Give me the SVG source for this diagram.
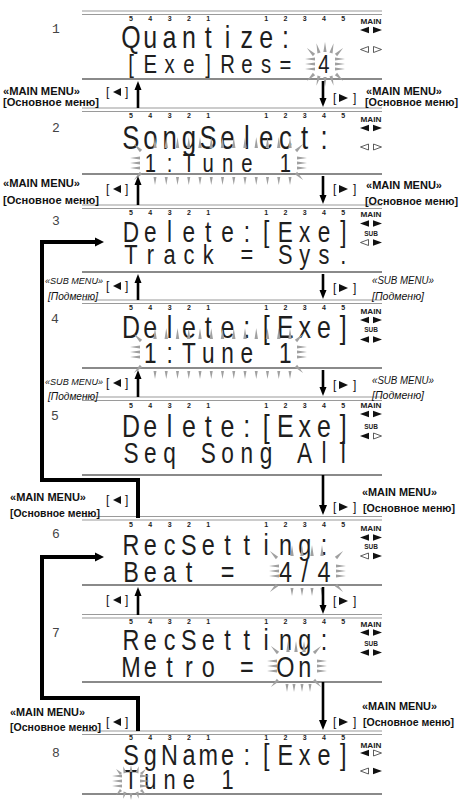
<svg xmlns="http://www.w3.org/2000/svg" width="462" height="803" viewBox="0 0 462 803">
<style>
.lcd{font-family:"Liberation Sans",Arial,sans-serif;fill:#1e1e1e;text-anchor:middle}
.num{font-family:"Liberation Mono","Courier New",monospace;font-size:13px;fill:#444}
.dig{font-family:"Liberation Sans",Arial,sans-serif;font-weight:bold;font-size:7px;fill:#222;text-anchor:middle}
.ind{font-family:"Liberation Sans",Arial,sans-serif;font-weight:bold;font-size:6.5px;fill:#222;text-anchor:middle}
.lbl{font-family:"Liberation Sans",Arial,sans-serif;font-weight:bold;font-size:11px;fill:#111}
.sub{font-family:"Liberation Sans",Arial,sans-serif;font-style:italic;font-size:10.5px;fill:#111}
.subl{font-size:9.5px}
.br{font-family:"Liberation Sans",Arial,sans-serif;font-size:12px;fill:#111}
.dl{stroke:#9a9a9a;stroke-width:1.1}
.bl{stroke:#8a8a8a;stroke-width:2}
.conn{stroke:#000;fill:none;stroke-width:4;stroke-linejoin:miter}
.arr{stroke:#000;stroke-width:2.6}
.hd{fill:#000}
.spk{fill:#a0a0a0}
.tri{fill:#111}
.otri{fill:#fff;stroke:#333;stroke-width:0.8}
</style>
<defs>
<polygon id="wu" points="-1.7,0 1.7,0 0,-11"/>
<polygon id="wd" points="-1.5,0 1.5,0 0,8"/>
<polygon id="wL" points="0,-1.5 0,1.5 -10,0"/>
<polygon id="wR" points="0,-1.5 0,1.5 10,0"/>
<polygon id="wg" points="-1.6,0 1.6,0 0,-10"/>
<polygon id="ws" points="-1.5,0 1.5,0 0,-7"/>
<g id="L3"><use href="#wL" y="-5"/><use href="#wL"/><use href="#wL" y="5"/></g>
<g id="R3"><use href="#wR" y="-5"/><use href="#wR"/><use href="#wR" y="5"/></g>
<g id="top13"><use href="#wu" x="0"/><use href="#wu" x="11.25"/><use href="#wu" x="22.5"/><use href="#wu" x="33.75"/><use href="#wu" x="45"/><use href="#wu" x="56.25"/><use href="#wu" x="67.5"/><use href="#wu" x="78.75"/><use href="#wu" x="90"/><use href="#wu" x="101.25"/><use href="#wu" x="112.5"/><use href="#wu" x="123.75"/><use href="#wu" x="135"/></g>
<g id="bot13"><use href="#wd" x="0"/><use href="#wd" x="11.25"/><use href="#wd" x="22.5"/><use href="#wd" x="33.75"/><use href="#wd" x="45"/><use href="#wd" x="56.25"/><use href="#wd" x="67.5"/><use href="#wd" x="78.75"/><use href="#wd" x="90"/><use href="#wd" x="101.25"/><use href="#wd" x="112.5"/><use href="#wd" x="123.75"/><use href="#wd" x="135"/></g>
<polygon id="fl" class="tri" points="-4.5,0 4.5,-3.3 4.5,3.3"/>
<polygon id="fr" class="tri" points="4.5,0 -4.5,-3.3 -4.5,3.3"/>
<polygon id="ol" class="otri" points="-4,0 4,-3 4,3"/>
<polygon id="or" class="otri" points="4,0 -4,-3 -4,3"/>
</defs>
<rect width="462" height="803" fill="#fff"/>

<g id="panel1">
<line class="dl" x1="82" y1="11" x2="382" y2="11"/><line class="dl" x1="82" y1="14.5" x2="382" y2="14.5"/><line class="bl" x1="82" y1="79" x2="382" y2="79"/>
<text class="num" x="52" y="33">1</text>
<text class="dig" x="131 150.3 169.6 188.9 208.2 266.1 285.4 304.7 324 343.3" y="21">5432112345</text>
<g transform="scale(0.78 1)">
<text class="lcd" font-size="32" x="167.9 192.7 217.4 242.2 266.9 291.7 316.4 341.2 365.9" y="48">Quantize:</text>
<text class="lcd" font-size="26" x="167.9 192.7 217.4 242.2 266.9 291.7 316.4 341.2 365.9 415.4" y="73">[Exe]Res=4</text>
</g>
<text class="ind" x="371" y="24" textLength="21" lengthAdjust="spacingAndGlyphs">MAIN</text>
<use href="#fl" x="364.5" y="30"/><use href="#fr" x="377.5" y="30"/>
<use href="#ol" x="364.5" y="49.5"/><use href="#or" x="377.5" y="49.5"/>
<g class="spk">
<use href="#wg" transform="translate(319 53) rotate(-15)"/><use href="#wg" transform="translate(325 52)"/><use href="#wg" transform="translate(331 53) rotate(15)"/>
<use href="#wg" transform="translate(314 55) rotate(-45)"/><use href="#wg" transform="translate(336 55) rotate(45)"/>
<use href="#L3" x="315" y="64"/><use href="#R3" x="335" y="64"/>
<use href="#wg" transform="translate(319 76) rotate(195)"/><use href="#wg" transform="translate(325 77) rotate(180)"/><use href="#wg" transform="translate(331 76) rotate(165)"/>
<use href="#wg" transform="translate(314 74) rotate(-135)"/><use href="#wg" transform="translate(336 74) rotate(135)"/>
</g>
</g>

<g id="panel2">
<line class="dl" x1="82" y1="108" x2="382" y2="108"/><line class="dl" x1="82" y1="111.5" x2="382" y2="111.5"/><line class="bl" x1="82" y1="174" x2="382" y2="174"/>
<text class="num" x="52" y="132">2</text>
<text class="dig" x="131 150.3 169.6 188.9 208.2 266.1 285.4 304.7 324 343.3" y="118">5432112345</text>
<g transform="scale(0.78 1)">
<text class="lcd" font-size="33" x="167.9 192.7 217.4 242.2 266.9 291.7 316.4 341.2 365.9 390.6 415.4" y="149">SongSelect:</text>
<text class="lcd" font-size="26" x="192.7 217.4 242.2 266.9 291.7 316.4 365.9" y="172">1:Tune1</text>
</g>
<text class="ind" x="371" y="122" textLength="21" lengthAdjust="spacingAndGlyphs">MAIN</text>
<use href="#fl" x="364.5" y="128"/><use href="#fr" x="377.5" y="128"/>
<use href="#ol" x="364.5" y="147"/><use href="#or" x="377.5" y="147"/>
<g class="spk">
<use href="#top13" x="155" y="148"/><use href="#bot13" x="155" y="177"/>
<use href="#L3" x="140" y="163"/><use href="#R3" x="297" y="163"/>
<use href="#wg" transform="translate(141 151) rotate(-45)"/><use href="#wg" transform="translate(296 151) rotate(45)"/>
<use href="#wg" transform="translate(141 173) rotate(-135)"/><use href="#wg" transform="translate(296 173) rotate(135)"/>
</g>
</g>

<g id="panel3">
<line class="dl" x1="82" y1="205" x2="382" y2="205"/><line class="dl" x1="82" y1="208.5" x2="382" y2="208.5"/><line class="bl" x1="82" y1="272" x2="382" y2="272"/>
<text class="num" x="52" y="225">3</text>
<text class="dig" x="131 150.3 169.6 188.9 208.2 266.1 285.4 304.7 324 343.3" y="215">5432112345</text>
<g transform="scale(0.78 1)">
<text class="lcd" font-size="29" x="167.9 192.7 217.4 242.2 266.9 291.7 316.4 341.2 365.9 390.6 415.4 440.1" y="242">Delete:[Exe]</text>
<text class="lcd" font-size="28" x="167.9 192.7 217.4 242.2 266.9 316.4 365.9 390.6 415.4 440.1" y="264">Track=Sys.</text>
</g>
<text class="ind" x="371" y="217" textLength="21" lengthAdjust="spacingAndGlyphs">MAIN</text>
<use href="#fl" x="364.5" y="223.5"/><use href="#fr" x="377.5" y="223.5"/>
<text class="ind" x="371" y="236">SUB</text>
<use href="#ol" x="364.5" y="242.5"/><use href="#fr" x="377.5" y="242.5"/>
</g>

<g id="panel4">
<line class="dl" x1="82" y1="300" x2="382" y2="300"/><line class="dl" x1="82" y1="303.5" x2="382" y2="303.5"/><line class="bl" x1="82" y1="368" x2="382" y2="368"/>
<text class="num" x="51" y="323">4</text>
<text class="dig" x="131 150.3 169.6 188.9 208.2 266.1 285.4 304.7 324 343.3" y="310">5432112345</text>
<g transform="scale(0.78 1)">
<text class="lcd" font-size="32" x="167.9 192.7 217.4 242.2 266.9 291.7 316.4 341.2 365.9 390.6 415.4 440.1" y="338">Delete:[Exe]</text>
<text class="lcd" font-size="29" x="192.7 217.4 242.2 266.9 291.7 316.4 365.9" y="363">1:Tune1</text>
</g>
<text class="ind" x="371" y="314" textLength="21" lengthAdjust="spacingAndGlyphs">MAIN</text>
<use href="#fl" x="364.5" y="320"/><use href="#fr" x="377.5" y="320"/>
<text class="ind" x="371" y="332">SUB</text>
<use href="#fl" x="364.5" y="339.5"/><use href="#fr" x="377.5" y="339.5"/>
<g class="spk">
<use href="#top13" x="155" y="339"/><use href="#bot13" x="155" y="371"/>
<use href="#L3" x="140" y="352"/><use href="#R3" x="297" y="352"/>
<use href="#wg" transform="translate(141 341) rotate(-45)"/><use href="#wg" transform="translate(296 341) rotate(45)"/>
<use href="#wg" transform="translate(141 366) rotate(-135)"/><use href="#wg" transform="translate(296 366) rotate(135)"/>
</g>
</g>

<g id="panel5">
<line class="dl" x1="82" y1="397" x2="382" y2="397"/><line class="dl" x1="82" y1="400.5" x2="382" y2="400.5"/><line class="bl" x1="82" y1="475" x2="382" y2="475"/>
<text class="num" x="51" y="420">5</text>
<text class="dig" x="131 150.3 169.6 188.9 208.2 266.1 285.4 304.7 324 343.3" y="408">5432112345</text>
<g transform="scale(0.78 1)">
<text class="lcd" font-size="32" x="167.9 192.7 217.4 242.2 266.9 291.7 316.4 341.2 365.9 390.6 415.4 440.1" y="437">Delete:[Exe]</text>
<text class="lcd" font-size="29" x="167.9 192.7 217.4 266.9 291.7 316.4 341.2 390.6 415.4 440.1" y="463">SeqSongAll</text>
</g>
<text class="ind" x="371" y="408" textLength="21" lengthAdjust="spacingAndGlyphs">MAIN</text>
<use href="#fl" x="364.5" y="414"/><use href="#fr" x="377.5" y="414"/>
<text class="ind" x="371" y="429">SUB</text>
<use href="#fl" x="364.5" y="436"/><use href="#or" x="377.5" y="436"/>
</g>

<g id="panel6">
<line class="dl" x1="82" y1="516.5" x2="382" y2="516.5"/><line class="dl" x1="82" y1="520" x2="382" y2="520"/><line class="bl" x1="82" y1="585" x2="382" y2="585"/>
<text class="num" x="52" y="538">6</text>
<text class="dig" x="131 150.3 169.6 188.9 208.2 266.1 285.4 304.7 324 343.3" y="527">5432112345</text>
<g transform="scale(0.78 1)">
<text class="lcd" font-size="30" x="167.9 192.7 217.4 242.2 266.9 291.7 316.4 341.2 365.9 390.6 415.4" y="555">RecSetting:</text>
<text class="lcd" font-size="30" x="167.9 192.7 217.4 242.2 291.7 365.9 390.6 415.4" y="582">Beat=4/4</text>
</g>
<text class="ind" x="371" y="531" textLength="21" lengthAdjust="spacingAndGlyphs">MAIN</text>
<use href="#fl" x="364.5" y="537.5"/><use href="#fr" x="377.5" y="537.5"/>
<text class="ind" x="371" y="549">SUB</text>
<use href="#ol" x="364.5" y="556"/><use href="#fr" x="377.5" y="556"/>
<g class="spk">
<use href="#wu" x="292" y="556"/><use href="#wu" x="302" y="556"/><use href="#wu" x="312" y="556"/><use href="#wu" x="322" y="556"/>
<use href="#wd" x="292" y="588"/><use href="#wd" x="302" y="588"/><use href="#wd" x="312" y="588"/><use href="#wd" x="322" y="588"/>
<use href="#L3" x="279" y="571"/><use href="#R3" x="336" y="571"/>
<use href="#wg" transform="translate(277 558) rotate(-45)"/><use href="#wg" transform="translate(336 558) rotate(45)"/>
<use href="#wg" transform="translate(277 585) rotate(-135)"/><use href="#wg" transform="translate(336 585) rotate(135)"/>
</g>
</g>

<g id="panel7">
<line class="dl" x1="82" y1="614.5" x2="382" y2="614.5"/><line class="dl" x1="82" y1="618" x2="382" y2="618"/><line class="bl" x1="82" y1="682" x2="382" y2="682"/>
<text class="num" x="52" y="637">7</text>
<text class="dig" x="131 150.3 169.6 188.9 208.2 266.1 285.4 304.7 324 343.3" y="624">5432112345</text>
<g transform="scale(0.78 1)">
<text class="lcd" font-size="30" x="167.9 192.7 217.4 242.2 266.9 291.7 316.4 341.2 365.9 390.6 415.4" y="650">RecSetting:</text>
<text class="lcd" font-size="30" x="167.9 192.7 217.4 242.2 266.9 316.4 365.9 390.6" y="677">Metro=On</text>
</g>
<text class="ind" x="371" y="627" textLength="21" lengthAdjust="spacingAndGlyphs">MAIN</text>
<use href="#fl" x="364.5" y="632.5"/><use href="#fr" x="377.5" y="632.5"/>
<text class="ind" x="371" y="646">SUB</text>
<use href="#fl" x="364.5" y="652.5"/><use href="#fr" x="377.5" y="652.5"/>
<g class="spk">
<use href="#wu" x="288" y="652"/><use href="#wu" x="296" y="652"/><use href="#wu" x="304" y="652"/>
<use href="#wd" x="287" y="684"/><use href="#wd" x="294" y="684"/><use href="#wd" x="302" y="684"/><use href="#wd" x="310" y="684"/>
<use href="#L3" x="277" y="666"/><use href="#R3" x="317" y="666"/>
<use href="#wg" transform="translate(278 653) rotate(-45)"/><use href="#wg" transform="translate(314 653) rotate(45)"/>
<use href="#wg" transform="translate(278 680) rotate(-135)"/><use href="#wg" transform="translate(314 680) rotate(135)"/>
</g>
</g>

<g id="panel8">
<line class="dl" x1="82" y1="731" x2="382" y2="731"/><line class="dl" x1="82" y1="734.5" x2="382" y2="734.5"/><line class="bl" x1="82" y1="794" x2="382" y2="794"/>
<text class="num" x="52" y="757">8</text>
<text class="dig" x="131 150.3 169.6 188.9 208.2 266.1 285.4 304.7 324 343.3" y="740">5432112345</text>
<g transform="scale(0.78 1)">
<text class="lcd" font-size="30" x="167.9 192.7 217.4 242.2 266.9 291.7 316.4 341.2 365.9 390.6 415.4 440.1" y="765">SgName:[Exe]</text>
<text class="lcd" font-size="28" x="167.9 192.7 217.4 242.2 291.7" y="789">Tune1</text>
</g>
<text class="ind" x="371" y="748" textLength="21" lengthAdjust="spacingAndGlyphs">MAIN</text>
<use href="#fl" x="364.5" y="753"/><use href="#or" x="377.5" y="753"/>
<use href="#ol" x="364.5" y="771"/><use href="#fr" x="377.5" y="771"/>
<g class="spk">
<use href="#ws" transform="translate(125 773) rotate(-15)"/><use href="#ws" transform="translate(131 772)"/><use href="#ws" transform="translate(137 773) rotate(15)"/>
<use href="#ws" transform="translate(121 774) rotate(-45)"/><use href="#ws" transform="translate(141 774) rotate(45)"/>
<use href="#L3" x="122" y="781"/><use href="#R3" x="140" y="781"/>
<use href="#ws" transform="translate(125 792) rotate(195)"/><use href="#ws" transform="translate(131 793) rotate(180)"/><use href="#ws" transform="translate(137 792) rotate(165)"/>
<use href="#ws" transform="translate(121 790) rotate(-135)"/><use href="#ws" transform="translate(141 790) rotate(135)"/>
</g>
</g>

<g id="connectors">
<line class="arr" x1="138" y1="108" x2="138" y2="88"/><polygon class="hd" points="138,81 134.5,90 141.5,90"/>
<line class="arr" x1="323" y1="81" x2="323" y2="100"/><polygon class="hd" points="323,107 319.5,98 326.5,98"/>
<line class="arr" x1="138" y1="205" x2="138" y2="183"/><polygon class="hd" points="138,176 134.5,185 141.5,185"/>
<line class="arr" x1="323" y1="176" x2="323" y2="197"/><polygon class="hd" points="323,204 319.5,195 326.5,195"/>
<line class="arr" x1="138" y1="300" x2="138" y2="281"/><polygon class="hd" points="138,274 134.5,283 141.5,283"/>
<line class="arr" x1="323" y1="274" x2="323" y2="292"/><polygon class="hd" points="323,299 319.5,290 326.5,290"/>
<line class="arr" x1="138" y1="397" x2="138" y2="377"/><polygon class="hd" points="138,370 134.5,379 141.5,379"/>
<line class="arr" x1="323" y1="370" x2="323" y2="389"/><polygon class="hd" points="323,396 319.5,387 326.5,387"/>
<line class="arr" x1="138" y1="615" x2="138" y2="594"/><polygon class="hd" points="138,587 134.5,596 141.5,596"/>
<line class="arr" x1="323" y1="587" x2="323" y2="607"/><polygon class="hd" points="323,614 319.5,605 326.5,605"/>
<line class="arr" x1="323" y1="475" x2="323" y2="507" stroke-width="3"/><polygon class="hd" points="323,515 319,505 327,505"/>
<line class="arr" x1="323" y1="682" x2="323" y2="722" stroke-width="3"/><polygon class="hd" points="323,730 319,720 327,720"/>
<path class="conn" d="M138,518 V480 H42 V242 H96"/><polygon class="hd" points="104,242 95,237.5 95,246.5"/>
<path class="conn" d="M138,731 V698 H42 V557 H96"/><polygon class="hd" points="104,557 95,552.5 95,561.5"/>
</g>

<g id="labels">
<text class="lbl" x="3" y="95" textLength="77" lengthAdjust="spacingAndGlyphs">«MAIN MENU»</text>
<text class="lbl" x="3" y="106" textLength="96" lengthAdjust="spacingAndGlyphs">[Основное меню]</text>
<text class="lbl" x="366" y="95" textLength="76" lengthAdjust="spacingAndGlyphs">«MAIN MENU»</text>
<text class="lbl" x="365" y="106" textLength="93" lengthAdjust="spacingAndGlyphs">[Основное меню]</text>
<text class="br" x="106" y="95.5">[</text><polygon class="tri" points="113,92 121,88 121,96"/><text class="br" x="125" y="95.5">]</text>
<text class="br" x="333" y="101.5">[</text><polygon class="tri" points="348,98 339,94 339,102"/><text class="br" x="353" y="101.5">]</text>

<text class="lbl" x="3" y="187" textLength="77" lengthAdjust="spacingAndGlyphs">«MAIN MENU»</text>
<text class="lbl" x="3" y="204" textLength="96" lengthAdjust="spacingAndGlyphs">[Основное меню]</text>
<text class="lbl" x="366" y="189" textLength="76" lengthAdjust="spacingAndGlyphs">«MAIN MENU»</text>
<text class="lbl" x="365" y="205" textLength="93" lengthAdjust="spacingAndGlyphs">[Основное меню]</text>
<text class="br" x="106" y="192.5">[</text><polygon class="tri" points="113,189 121,185 121,193"/><text class="br" x="125" y="192.5">]</text>
<text class="br" x="333" y="192.5">[</text><polygon class="tri" points="348,189 339,185 339,193"/><text class="br" x="353" y="192.5">]</text>

<text class="sub subl" x="45" y="284" textLength="58" lengthAdjust="spacingAndGlyphs">«SUB MENU»</text>
<text class="sub" x="48" y="300" textLength="50" lengthAdjust="spacingAndGlyphs">[Подменю]</text>
<text class="sub" x="372" y="284" textLength="62" lengthAdjust="spacingAndGlyphs">«SUB MENU»</text>
<text class="sub" x="372" y="300" textLength="52" lengthAdjust="spacingAndGlyphs">[Подменю]</text>
<text class="br" x="106" y="289.5">[</text><polygon class="tri" points="113,286 121,282 121,290"/><text class="br" x="125" y="289.5">]</text>
<text class="br" x="333" y="291.5">[</text><polygon class="tri" points="348,288 339,284 339,292"/><text class="br" x="353" y="291.5">]</text>

<text class="sub subl" x="45" y="385" textLength="58" lengthAdjust="spacingAndGlyphs">«SUB MENU»</text>
<text class="sub" x="48" y="400" textLength="50" lengthAdjust="spacingAndGlyphs">[Подменю]</text>
<text class="sub" x="372" y="384" textLength="62" lengthAdjust="spacingAndGlyphs">«SUB MENU»</text>
<text class="sub" x="372" y="399" textLength="52" lengthAdjust="spacingAndGlyphs">[Подменю]</text>
<text class="br" x="106" y="386.5">[</text><polygon class="tri" points="113,383 121,379 121,387"/><text class="br" x="125" y="386.5">]</text>
<text class="br" x="333" y="388.5">[</text><polygon class="tri" points="348,385 339,381 339,389"/><text class="br" x="353" y="388.5">]</text>

<text class="lbl" x="10" y="501" textLength="76" lengthAdjust="spacingAndGlyphs">«MAIN MENU»</text>
<text class="lbl" x="10" y="517" textLength="90" lengthAdjust="spacingAndGlyphs">[Основное меню]</text>
<text class="lbl" x="362" y="496" textLength="75" lengthAdjust="spacingAndGlyphs">«MAIN MENU»</text>
<text class="lbl" x="363" y="512" textLength="92" lengthAdjust="spacingAndGlyphs">[Основное меню]</text>
<text class="br" x="106" y="503.5">[</text><polygon class="tri" points="113,500 121,496 121,504"/><text class="br" x="125" y="503.5">]</text>
<text class="br" x="333" y="510.5">[</text><polygon class="tri" points="348,507 339,503 339,511"/><text class="br" x="353" y="510.5">]</text>

<text class="br" x="106" y="603.5">[</text><polygon class="tri" points="113,600 121,596 121,604"/><text class="br" x="125" y="603.5">]</text>
<text class="br" x="333" y="604.5">[</text><polygon class="tri" points="348,601 339,597 339,605"/><text class="br" x="353" y="604.5">]</text>

<text class="lbl" x="10" y="716" textLength="75" lengthAdjust="spacingAndGlyphs">«MAIN MENU»</text>
<text class="lbl" x="10" y="731" textLength="91" lengthAdjust="spacingAndGlyphs">[Основное меню]</text>
<text class="lbl" x="362" y="710" textLength="75" lengthAdjust="spacingAndGlyphs">«MAIN MENU»</text>
<text class="lbl" x="363" y="726" textLength="91" lengthAdjust="spacingAndGlyphs">[Основное меню]</text>
<text class="br" x="106" y="725.5">[</text><polygon class="tri" points="113,722 121,718 121,726"/><text class="br" x="125" y="725.5">]</text>
<text class="br" x="333" y="725.5">[</text><polygon class="tri" points="348,722 339,718 339,726"/><text class="br" x="353" y="725.5">]</text>
</g>
</svg>
